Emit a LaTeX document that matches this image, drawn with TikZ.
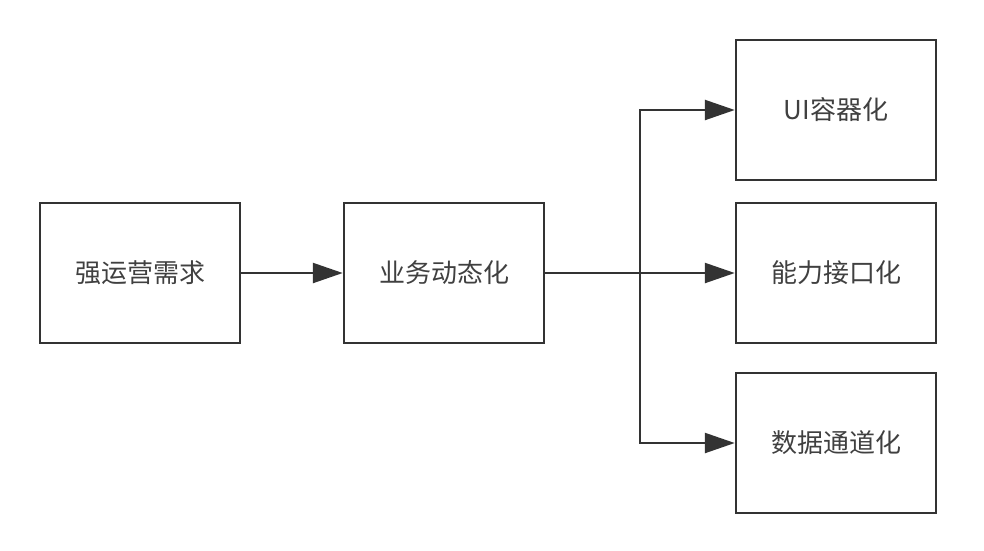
\documentclass[tikz,border=0pt]{standalone}
\usepackage{fontspec}
\setmainfont{Noto Sans CJK SC}
\usepackage{tikz}
\usetikzlibrary{arrows.meta}
\definecolor{linegray}{HTML}{333333}
\definecolor{textgray}{HTML}{404040}

\begin{document}
\begin{tikzpicture}[x=1pt, y=-1pt,
  box/.style={draw=linegray, line width=2.5pt, minimum width=200pt, minimum height=140pt, inner sep=0pt, text=textgray, font=\fontsize{26}{30}\selectfont},
  link/.style={draw=linegray, line width=2.5pt, -{Triangle[length=30pt, width=20pt]}}]
\useasboundingbox (0,0) rectangle (984,550);
\node[box] (need) at (140,273) {强运营需求};
\node[box] (dyn) at (444,273) {业务动态化};
\node[box] (ui) at (836,110) {UI容器化};
\node[box] (api) at (836,273) {能力接口化};
\node[box] (data) at (836,443) {数据通道化};
\coordinate (split) at (640,273);

\draw[link] (need) -- (dyn);
\draw[link] (dyn) -- (api);
\draw[link] (split) |- (ui);
\draw[link] (split) |- (data);
\end{tikzpicture}
\end{document}
